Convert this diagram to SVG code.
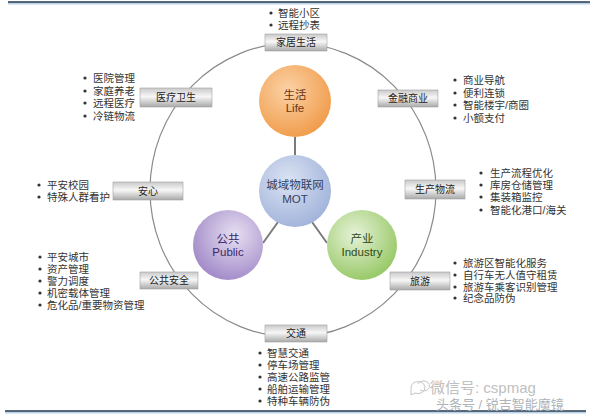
<svg xmlns="http://www.w3.org/2000/svg" width="600" height="419" viewBox="0 0 600 419">
<defs>
  <linearGradient id="bar" x1="0" y1="0" x2="0" y2="1">
    <stop offset="0" stop-color="#c9c9c9"/>
    <stop offset="0.45" stop-color="#f7f7f7"/>
    <stop offset="1" stop-color="#a9a9a9"/>
  </linearGradient>
  <radialGradient id="gOrange" cx="0.4" cy="0.35" r="0.7">
    <stop offset="0" stop-color="#fbd2a6"/>
    <stop offset="1" stop-color="#f09a48"/>
  </radialGradient>
  <radialGradient id="gBlue" cx="0.4" cy="0.35" r="0.7">
    <stop offset="0" stop-color="#dce3f3"/>
    <stop offset="1" stop-color="#9fb2da"/>
  </radialGradient>
  <radialGradient id="gPurple" cx="0.6" cy="0.35" r="0.75">
    <stop offset="0" stop-color="#e6dff1"/>
    <stop offset="1" stop-color="#9b81c4"/>
  </radialGradient>
  <radialGradient id="gGreen" cx="0.4" cy="0.35" r="0.75">
    <stop offset="0" stop-color="#e6f2d8"/>
    <stop offset="1" stop-color="#8fc45a"/>
  </radialGradient>
  <style>
    .bar{fill:url(#bar);stroke:#a0a0a0;stroke-width:0.6}
    .lbl{font-family:"Liberation Sans","Noto Sans CJK SC",sans-serif;font-size:10px;fill:#222;text-anchor:middle;dominant-baseline:central}
    .li{font-family:"Liberation Sans","Noto Sans CJK SC",sans-serif;font-size:10.5px;fill:#333;dominant-baseline:central}
    .dot{fill:#333}
    .ct{font-family:"Liberation Sans","Noto Sans CJK SC",sans-serif;font-size:11.5px;text-anchor:middle;dominant-baseline:central}
    .conn{stroke:#7a7a7a;stroke-width:2;fill:none}
    .wm{font-family:"Liberation Sans","Noto Sans CJK SC",sans-serif}
  </style>
</defs>
<rect width="600" height="419" fill="#ffffff"/>
<line x1="8" y1="3" x2="590" y2="3" stroke="#bcd3e6" stroke-width="3"/>
<line x1="8" y1="2" x2="590" y2="2" stroke="#2e3f55" stroke-width="1.5"/>

<g id="ring">
  <ellipse cx="293" cy="190" rx="143" ry="147" fill="none" stroke="#8a8a8a" stroke-width="1.2"/>
</g>

<g id="connectors">
  <line class="conn" x1="295" y1="137" x2="295" y2="155"/>
  <line class="conn" x1="263" y1="243" x2="278" y2="222"/>
  <line class="conn" x1="312" y1="222" x2="327" y2="243"/>
</g>

<g id="life">
  <circle cx="295" cy="101" r="36" fill="url(#gOrange)"/>
  <text class="ct" x="295" y="95" fill="#6b3412">生活</text>
  <text class="ct" x="295" y="108" fill="#6b3412">Life</text>
</g>
<g id="mot">
  <circle cx="295" cy="191" r="36" fill="url(#gBlue)"/>
  <text class="ct" x="295" y="185" fill="#34425f">城域物联网</text>
  <text class="ct" x="295" y="199" fill="#34425f">MOT</text>
</g>
<g id="public">
  <circle cx="228" cy="245" r="35" fill="url(#gPurple)"/>
  <text class="ct" x="228" y="239" fill="#3f2566">公共</text>
  <text class="ct" x="228" y="252" fill="#3f2566">Public</text>
</g>
<g id="industry">
  <circle cx="362" cy="245" r="35" fill="url(#gGreen)"/>
  <text class="ct" x="362" y="239" fill="#2f4a14">产业</text>
  <text class="ct" x="362" y="252" fill="#2f4a14">Industry</text>
</g>

<g id="jiaju">
  <rect class="bar" x="265" y="34" width="62" height="17"/>
  <text class="lbl" x="296" y="42.5">家居生活</text>
  <circle class="dot" cx="271" cy="13" r="1.6"/><text class="li" x="278" y="13">智能小区</text>
  <circle class="dot" cx="271" cy="25" r="1.6"/><text class="li" x="278" y="25">远程抄表</text>
</g>

<g id="yiliao">
  <rect class="bar" x="140" y="88" width="72" height="19"/>
  <text class="lbl" x="176" y="97.5">医疗卫生</text>
  <circle class="dot" cx="85" cy="78" r="1.6"/><text class="li" x="93" y="78">医院管理</text>
  <circle class="dot" cx="85" cy="91" r="1.6"/><text class="li" x="93" y="91">家庭养老</text>
  <circle class="dot" cx="85" cy="103" r="1.6"/><text class="li" x="93" y="103">远程医疗</text>
  <circle class="dot" cx="85" cy="116" r="1.6"/><text class="li" x="93" y="116">冷链物流</text>
</g>

<g id="jinrong">
  <rect class="bar" x="378" y="90" width="60" height="17"/>
  <text class="lbl" x="408" y="98.5">金融商业</text>
  <circle class="dot" cx="455" cy="80" r="1.6"/><text class="li" x="463" y="80">商业导航</text>
  <circle class="dot" cx="455" cy="93" r="1.6"/><text class="li" x="463" y="93">便利连锁</text>
  <circle class="dot" cx="455" cy="105" r="1.6"/><text class="li" x="463" y="105">智能楼宇/商圈</text>
  <circle class="dot" cx="455" cy="118" r="1.6"/><text class="li" x="463" y="118">小额支付</text>
</g>

<g id="anxin">
  <rect class="bar" x="113" y="182" width="70" height="18"/>
  <text class="lbl" x="148" y="191">安心</text>
  <circle class="dot" cx="39" cy="185" r="1.6"/><text class="li" x="47" y="185">平安校园</text>
  <circle class="dot" cx="39" cy="197" r="1.6"/><text class="li" x="47" y="197">特殊人群看护</text>
</g>

<g id="shengchan">
  <rect class="bar" x="405" y="180" width="60" height="19"/>
  <text class="lbl" x="435" y="189.5">生产物流</text>
  <circle class="dot" cx="481" cy="173" r="1.6"/><text class="li" x="490" y="173">生产流程优化</text>
  <circle class="dot" cx="481" cy="185" r="1.6"/><text class="li" x="490" y="185">库房仓储管理</text>
  <circle class="dot" cx="481" cy="197" r="1.6"/><text class="li" x="490" y="197">集装箱监控</text>
  <circle class="dot" cx="481" cy="210" r="1.6"/><text class="li" x="490" y="210">智能化港口/海关</text>
</g>

<g id="gonggong">
  <rect class="bar" x="140" y="272" width="58" height="17"/>
  <text class="lbl" x="169" y="280.5">公共安全</text>
  <circle class="dot" cx="40" cy="257" r="1.6"/><text class="li" x="47" y="257">平安城市</text>
  <circle class="dot" cx="40" cy="269" r="1.6"/><text class="li" x="47" y="269">资产管理</text>
  <circle class="dot" cx="40" cy="281" r="1.6"/><text class="li" x="47" y="281">警力调度</text>
  <circle class="dot" cx="40" cy="293" r="1.6"/><text class="li" x="47" y="293">机密载体管理</text>
  <circle class="dot" cx="40" cy="305" r="1.6"/><text class="li" x="47" y="305">危化品/重要物资管理</text>
</g>

<g id="lvyou">
  <rect class="bar" x="390" y="272" width="60" height="18"/>
  <text class="lbl" x="420" y="281">旅游</text>
  <circle class="dot" cx="455" cy="263" r="1.6"/><text class="li" x="463" y="263">旅游区智能化服务</text>
  <circle class="dot" cx="455" cy="275" r="1.6"/><text class="li" x="463" y="275">自行车无人值守租赁</text>
  <circle class="dot" cx="455" cy="287" r="1.6"/><text class="li" x="463" y="287">旅游车乘客识别管理</text>
  <circle class="dot" cx="455" cy="298" r="1.6"/><text class="li" x="463" y="298">纪念品防伪</text>
</g>

<g id="jiaotong">
  <rect class="bar" x="265" y="325" width="62" height="17"/>
  <text class="lbl" x="296" y="333.5">交通</text>
  <circle class="dot" cx="260" cy="353" r="1.6"/><text class="li" x="267" y="353">智慧交通</text>
  <circle class="dot" cx="260" cy="365" r="1.6"/><text class="li" x="267" y="365">停车场管理</text>
  <circle class="dot" cx="260" cy="377" r="1.6"/><text class="li" x="267" y="377">高速公路监管</text>
  <circle class="dot" cx="260" cy="389" r="1.6"/><text class="li" x="267" y="389">船舶运输管理</text>
  <circle class="dot" cx="260" cy="401" r="1.6"/><text class="li" x="267" y="401">特种车辆防伪</text>
</g>

<line x1="5" y1="412" x2="586" y2="412" stroke="#bcd3e6" stroke-width="3"/>
<line x1="5" y1="411" x2="586" y2="411" stroke="#2e3f55" stroke-width="1.5"/>

<g id="watermark">
  <path d="M411 388 a7 6 0 1 1 4 5 l-4 2 z" fill="none" stroke="#c4c4c4" stroke-width="1"/>
  <path d="M418 384 a6 5 0 1 1 2 6" fill="none" stroke="#c4c4c4" stroke-width="1"/>
  <text class="wm" x="430" y="393" font-size="15" fill="#c0c0c0">微信号: cspmag</text>
  <text class="wm" x="436" y="409" font-size="13" fill="#aeb4ba">头条号 / 锐吉智能魔镜</text>
</g>
</svg>
